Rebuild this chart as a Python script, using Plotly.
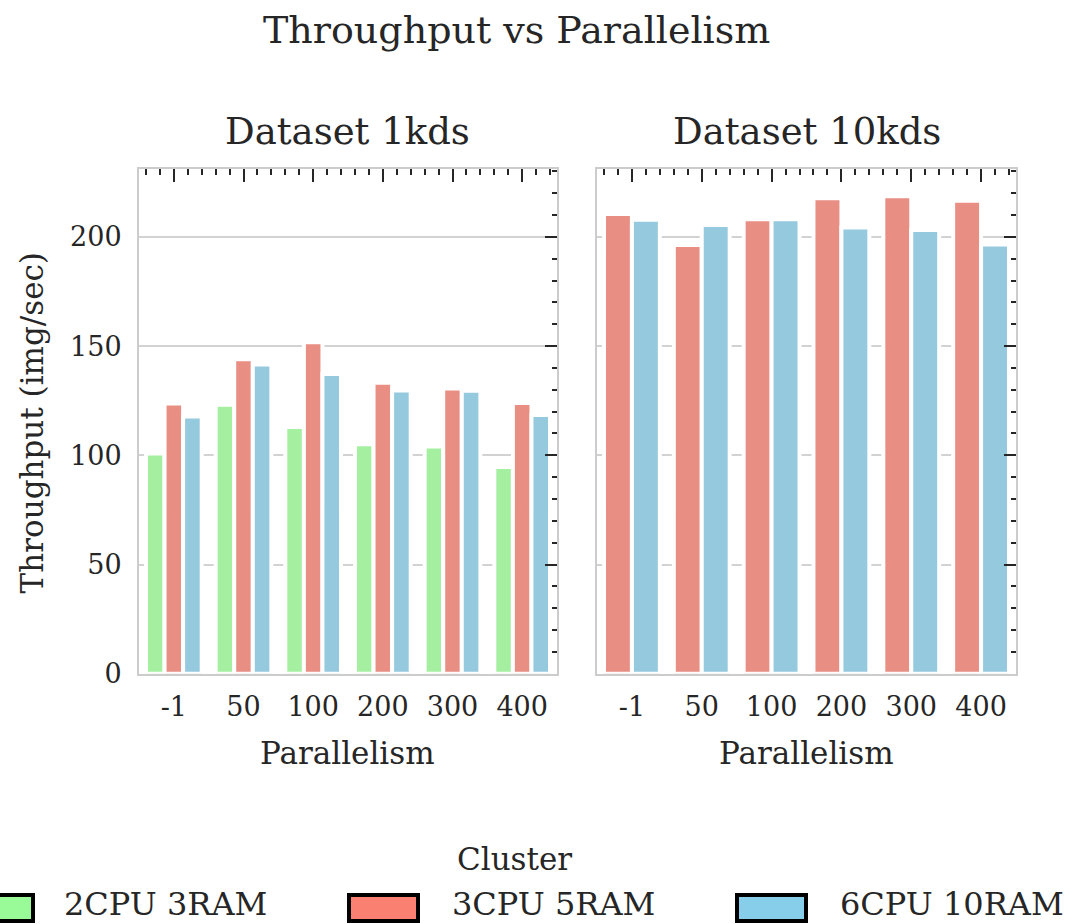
import plotly.graph_objects as go

# ---- data ----
parallelism = ["-1", "50", "100", "200", "300", "400"]
clusters = ["2CPU 3RAM", "3CPU 5RAM", "6CPU 10RAM"]
tput_1kds_2cpu = [100.8, 123.1, 113.0, 105.1, 104.0, 94.7]
tput_1kds_3cpu = [123.7, 144.0, 151.8, 133.2, 130.6, 124.0]
tput_1kds_6cpu = [117.8, 141.6, 137.2, 129.7, 129.5, 118.5]
tput_10kds_3cpu = [210.5, 196.3, 208.1, 217.7, 218.6, 216.5]
tput_10kds_6cpu = [207.8, 205.5, 208.1, 204.3, 203.2, 196.5]
y_ticks = [0, 50, 100, 150, 200]
minor_x_positions = list(range(len(parallelism)))

# ---- style ----
W, H = 1078, 924          # reference geometry
FIG_H = 940               # page height actually photographed
FONT = "DejaVu Serif"
TXT = "#262626"
bar_colors = ["#a5f0a0", "#e88e83", "#95c9de"]
legend_colors = ["#98fb98", "#fa8072", "#87ceeb"]
FRAME = "#cccccc"
GRID = "#d2d2d2"
Y_RANGE = [0, 231]


def px(x):
    return x / W


def py(y):
    return 1 - y / H


dom_x1 = [px(139), px(557)]
dom_x2 = [px(597), px(1016)]
dom_y = [py(673), py(169)]

fig = go.Figure()

bar_line = dict(color="white", width=4)
for name, vals, col in zip(clusters, [tput_1kds_2cpu, tput_1kds_3cpu, tput_1kds_6cpu], bar_colors):
    fig.add_trace(go.Bar(x=parallelism, y=vals, name=name, marker=dict(color=col, line=bar_line),
                         xaxis="x", yaxis="y", showlegend=False))
for name, vals, col in zip(clusters[1:], [tput_10kds_3cpu, tput_10kds_6cpu], bar_colors[1:]):
    fig.add_trace(go.Bar(x=parallelism, y=vals, name=name, marker=dict(color=col, line=bar_line),
                         xaxis="x2", yaxis="y2", showlegend=False))

# invisible traces to activate the tick-only overlay axes
fig.add_trace(go.Scatter(x=[None], y=[None], xaxis="x3", yaxis="y3", showlegend=False, hoverinfo="skip"))
fig.add_trace(go.Scatter(x=[None], y=[None], xaxis="x4", yaxis="y4", showlegend=False, hoverinfo="skip"))

frame = dict(showline=True, mirror=True, linecolor=FRAME, linewidth=2, zeroline=False)
xbase = dict(type="category", range=[-0.5, 5.5], ticks="", showgrid=False,
             tickfont=dict(family=FONT, size=27, color=TXT), ticklabelstandoff=8, **frame)
ybase = dict(range=Y_RANGE, tickvals=y_ticks, ticks="", showgrid=True, gridcolor=GRID, gridwidth=1.5,
             tickfont=dict(family=FONT, size=27, color=TXT), ticklabelstandoff=10, **frame)

top_ticks = dict(side="top", type="linear", range=[-0.5, 5.5], tickvals=minor_x_positions,
                 ticks="inside", ticklen=13, tickwidth=2, tickcolor=TXT,
                 minor=dict(tickmode="linear", tick0=0, dtick=0.2, ticks="inside", ticklen=6,
                            tickwidth=2, tickcolor=TXT),
                 showticklabels=False, showgrid=False, showline=False, zeroline=False, fixedrange=True)
right_ticks = dict(side="right", range=Y_RANGE, tickvals=y_ticks,
                   ticks="inside", ticklen=12, tickwidth=2, tickcolor=TXT,
                   minor=dict(tickmode="linear", tick0=0, dtick=10, ticks="inside", ticklen=5,
                              tickwidth=2, tickcolor=TXT),
                   showticklabels=False, showgrid=False, showline=False, zeroline=False, fixedrange=True)

fig.update_layout(
    width=W, height=FIG_H,
    margin=dict(l=0, r=0, t=0, b=0),
    paper_bgcolor="white", plot_bgcolor="white",
    barmode="group", bargap=0.2, bargroupgap=0,
    showlegend=False,
    font=dict(family=FONT, color=TXT),
    xaxis=dict(domain=dom_x1, anchor="y", **xbase),
    yaxis=dict(domain=dom_y, anchor="x", **ybase),
    xaxis2=dict(domain=dom_x2, anchor="y2", **xbase),
    yaxis2=dict(domain=dom_y, anchor="x2", matches="y", showticklabels=False,
                **{k: v for k, v in ybase.items() if k not in ("tickfont", "ticklabelstandoff")}),
    xaxis3=dict(overlaying="x", anchor="y", **top_ticks),
    yaxis3=dict(overlaying="y", anchor="x", **right_ticks),
    xaxis4=dict(overlaying="x2", anchor="y2", **top_ticks),
    yaxis4=dict(overlaying="y2", anchor="x2", **right_ticks),
)

ann = []
ann.append(dict(text="Throughput vs Parallelism", x=px(516), y=py(30), font=dict(size=38)))
ann.append(dict(text="Dataset 1kds", x=(dom_x1[0] + dom_x1[1]) / 2, y=py(131), font=dict(size=37)))
ann.append(dict(text="Dataset 10kds", x=(dom_x2[0] + dom_x2[1]) / 2, y=py(131), font=dict(size=37)))
ann.append(dict(text="Parallelism", x=(dom_x1[0] + dom_x1[1]) / 2, y=py(752), font=dict(size=31)))
ann.append(dict(text="Parallelism", x=(dom_x2[0] + dom_x2[1]) / 2, y=py(752), font=dict(size=31)))
ann.append(dict(text="Throughput (img/sec)", x=px(32), y=py(423), textangle=-90, font=dict(size=31)))
ann.append(dict(text="Cluster", x=px(514), y=py(858), font=dict(size=31)))

shapes = []
patch_left = [-38, 347, 735]
text_left = [62, 450, 838]
for name, col, x0, tx in zip(clusters, legend_colors, patch_left, text_left):
    shapes.append(dict(type="rect", xref="paper", yref="paper",
                       x0=px(x0 + 2), x1=px(x0 + 71), y0=py(920), y1=py(894),
                       fillcolor=col, line=dict(color="black", width=4), layer="above"))
    ann.append(dict(text=name, x=px(tx), y=py(903), xanchor="left", font=dict(size=32)))

for a in ann:
    a.setdefault("xanchor", "center")
    a.update(xref="paper", yref="paper", yanchor="middle", showarrow=False)
    a["font"] = dict(family=FONT, color=TXT, **a["font"])

fig.update_layout(annotations=ann, shapes=shapes)

fig.write_html("out.html", config={"displayModeBar": False},
               post_script="document.body.style.margin='0';document.body.style.overflow='hidden';")
